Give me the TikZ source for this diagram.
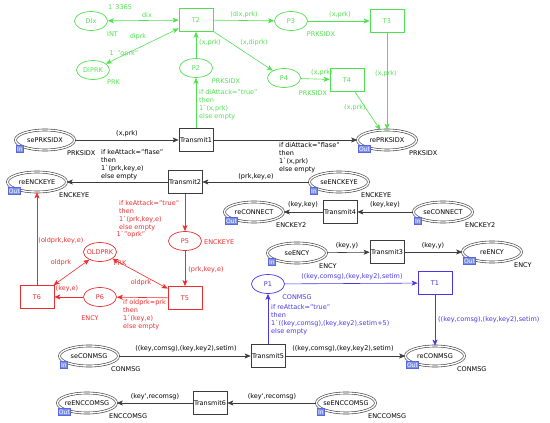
\documentclass[tikz,border=0pt]{standalone}
\usepackage{fontspec}
\setmainfont{DejaVu Sans}
\usetikzlibrary{shapes.geometric,arrows.meta}
\definecolor{cpngreen}{RGB}{80,225,80}
\definecolor{cpnred}{RGB}{235,45,45}
\definecolor{cpnblue}{RGB}{70,55,235}
\definecolor{cpngray}{RGB}{60,60,60}
\definecolor{tagblue}{RGB}{125,145,225}
\newcommand{\bt}{\textasciigrave}

\begin{document}
\begin{tikzpicture}[x=1pt,y=-1pt,
    every node/.style={font=\fontsize{6.5}{8}\selectfont},
    place/.style={ellipse,draw,line width=0.7pt,minimum width=33pt,minimum height=19pt,inner sep=-2pt},
    trans/.style={rectangle,draw,line width=0.7pt,minimum width=34pt,minimum height=23pt,inner sep=0pt},
    port/.style={ellipse,draw=cpngray,double,double distance=1.4pt,line width=0.6pt,minimum width=59pt,minimum height=20pt,inner sep=-2pt},
    tag/.style={fill=tagblue,draw=tagblue!70!blue,text=white,inner sep=0.8pt,minimum height=7pt,font=\fontsize{6}{6}\selectfont},
    lbl/.style={inner sep=0pt},
    cond/.style={inner sep=0pt,align=left,anchor=north west},
    arc/.style={line width=0.6pt,-{Stealth[length=6pt,width=5pt,inset=1.5pt]}},
    biarc/.style={line width=0.6pt,{Stealth[length=6pt,width=5pt,inset=1.5pt]}-{Stealth[length=6pt,width=5pt,inset=1.5pt]}}]
\useasboundingbox (0,0) rectangle (550,423);

% ports
\foreach \n/\x/\y/\io/\cs in {sePRKSIDX/45/140/In/PRKSIDX, rePRKSIDX/387/140/Out/PRKSIDX,
    reENCKEYE/37/182/Out/ENCKEYE, seENCKEYE/339/182/In/ENCKEYE,
    reCONNECT/254/212/Out/ENCKEY2, seCONNECT/443/212/In/ENCKEY2,
    seENCY/297/253/In/ENCY, reENCY/492/252/Out/ENCY,
    seCONMSG/89/356/In/CONMSG, reCONMSG/435/356/Out/CONMSG,
    reENCCOMSG/87/403/Out/ENCCOMSG, seENCCOMSG/346/403/In/ENCCOMSG}
{
    \node[port] (\n) at (\x,\y) {\n};
    \node[tag,anchor=west] (\n-io) at ([xshift=-29pt,yshift=-9pt]\n.center) {\io};
    \node[lbl,anchor=west] (\n-cs) at ([xshift=22pt,yshift=-13pt]\n.center) {\cs};
}

% transitions
\node[trans,draw=cpngray] (Transmit1) at (196,140) {Transmit1};
\node[trans,draw=cpngray] (Transmit2) at (185,182) {Transmit2};
\node[trans,draw=cpngray] (Transmit4) at (340,212) {Transmit4};
\node[trans,draw=cpngray] (Transmit3) at (387,252) {Transmit3};
\node[trans,draw=cpngray] (Transmit5) at (268,356) {Transmit5};
\node[trans,draw=cpngray] (Transmit6) at (210,403) {Transmit6};

% green part
\node[place,cpngreen] (DIx) at (91,21) {DIx};
\node[place,cpngreen] (DIPRK) at (93,70) {DIPRK};
\node[trans,cpngreen] (T2) at (196,20) {T2};
\node[place,cpngreen] (P3) at (291,21) {P3};
\node[trans,cpngreen] (T3) at (387,21) {T3};
\node[place,cpngreen] (P2) at (196,68) {P2};
\node[place,cpngreen] (P4) at (284,78) {P4};
\node[trans,cpngreen] (T4) at (347,80) {T4};

% red part
\node[place,cpnred] (P5) at (185,241) {P5};
\node[place,cpnred] (OLDPRK) at (100,252) {OLDPRK};
\node[place,cpnred] (P6) at (100,297) {P6};
\node[trans,cpnred] (T5) at (185,298) {T5};
\node[trans,cpnred] (T6) at (37,297) {T6};

% blue part
\node[place,cpnblue] (P1) at (268,284) {P1};
\node[trans,cpnblue] (T1) at (435,283) {T1};

\draw[biarc,cpngreen] (DIx) -- (T2);
\draw[biarc,cpngreen] (T2) -- (DIPRK);
\draw[arc,cpngreen] (T2) -- (P3);
\draw[arc,cpngreen] (P3) -- (T3);
\draw[arc,cpngreen] (P2) -- (T2);
\draw[arc,cpngreen] (T2) -- (P4);
\draw[arc,cpngreen] (P4) -- (T4);
\draw[arc,cpngreen] (T4) -- (rePRKSIDX);
\draw[arc,cpngreen] (T3) -- (rePRKSIDX);
\draw[arc,cpngreen] (Transmit1) -- (P2);

\draw[arc,cpngray] (sePRKSIDX) -- (Transmit1);
\draw[arc,cpngray] (Transmit1) -- (rePRKSIDX);
\draw[arc,cpngray] (seENCKEYE) -- (Transmit2);
\draw[arc,cpngray] (Transmit2) -- (reENCKEYE);
\draw[arc,cpngray] (seCONNECT) -- (Transmit4);
\draw[arc,cpngray] (Transmit4) -- (reCONNECT);
\draw[arc,cpngray] (seENCY) -- (Transmit3);
\draw[arc,cpngray] (Transmit3) -- (reENCY);
\draw[arc,cpngray] (seCONMSG) -- (Transmit5);
\draw[arc,cpngray] (Transmit5) -- (reCONMSG);
\draw[arc,cpngray] (seENCCOMSG) -- (Transmit6);
\draw[arc,cpngray] (Transmit6) -- (reENCCOMSG);

\draw[arc,cpnred] (Transmit2) -- (P5);
\draw[arc,cpnred] (P5) -- (T5);
\draw[biarc,cpnred] (OLDPRK) -- (T5);
\draw[biarc,cpnred] (T6) -- (OLDPRK);
\draw[arc,cpnred] (T5) -- (P6);
\draw[arc,cpnred] (P6) -- (T6);
\draw[arc,cpnred] (T6) -- (reENCKEYE);

\draw[arc,cpnblue] (P1) -- (T1);
\draw[arc,cpnblue] (T1) -- (reCONMSG);
\draw[arc,cpnblue] (Transmit5) -- (P1);

% green inscriptions
\node[lbl,cpngreen] (mDIx) at (120,7) {1\bt3365};
\node[lbl,cpngreen,anchor=west] (tDIx) at (107,34) {INT};
\node[lbl,cpngreen] (mDIPRK) at (124,54) {1\bt"oprk"};
\node[lbl,cpngreen,anchor=west] (tDIPRK) at (107,82) {PRK};
\node[lbl,cpngreen] (tP3) at (321,34) {PRKSIDX};
\node[lbl,cpngreen] (tP2) at (226,81) {PRKSIDX};
\node[lbl,cpngreen] (tP4) at (313,93) {PRKSIDX};
\node[lbl,cpngreen] (aDix) at (147,15) {dix};
\node[lbl,cpngreen] (aDiprk) at (138,37) {diprk};
\node[lbl,cpngreen] (aT2P3) at (244,15) {(dix,prk)};
\node[lbl,cpngreen] (aP3T3) at (340,15) {(x,prk)};
\node[lbl,cpngreen] (aP2T2) at (210,43) {(x,prk)};
\node[lbl,cpngreen] (aT2P4) at (254,43) {(x,diprk)};
\node[lbl,cpngreen] (aP4T4) at (322,73) {(x,prk)};
\node[lbl,cpngreen] (aT4re) at (355,108) {(x,prk)};
\node[lbl,cpngreen] (aT3re) at (386,74) {(x,prk)};
\node[cond,cpngreen] (aTr1P2) at (199,89) {if diAttack="true"\\then\\1\bt(x,prk)\\else empty};

% black inscriptions
\node[lbl] (aSeTr1) at (127,134) {(x,prk)};
\node[cond] (aSeTr2) at (101,149.5) {if keAttack="flase"\\then\\1\bt(prk,key,e)\\else empty};
\node[cond] (aTr1Re) at (279,142.5) {if diAttack="flase"\\then\\1\bt(x,prk)\\else empty};
\node[lbl] (aSeEK) at (256,177) {(prk,key,e)};
\node[lbl] (aTr4Re) at (303,205) {(key,key)};
\node[lbl] (aSeTr4) at (385,205) {(key,key)};
\node[lbl] (aSeTr3) at (347,246) {(key,y)};
\node[lbl] (aTr3Re) at (433,246) {(key,y)};
\node[lbl] (aSeTr5) at (186,349) {((key,comsg),(key,key2),setim)};
\node[lbl] (aTr5Re) at (343,349) {((key,comsg),(key,key2),setim)};
\node[lbl] (aTr6Re) at (155,397) {(key\textquotesingle,recomsg)};
\node[lbl] (aSeTr6) at (272,397) {(key\textquotesingle,recomsg)};

% red inscriptions
\node[cond,cpnred] (aTr2P5) at (119,200) {if keAttack="true"\\then\\1\bt(prk,key,e)\\else empty};
\node[lbl,cpnred] (mOLDPRK) at (131,235) {1\bt"oprk"};
\node[lbl,cpnred,anchor=west] (tP5) at (204,242) {ENCKEYE};
\node[lbl,cpnred] (tOLDPRK) at (120,263) {PRK};
\node[lbl,cpnred] (aT6Re) at (61,241) {(oldprk,key,e)};
\node[lbl,cpnred] (aT6Old) at (61,263) {oldprk};
\node[lbl,cpnred] (aOldT5) at (141,283) {oldprk};
\node[lbl,cpnred] (aP5T5) at (206,270) {(prk,key,e)};
\node[lbl,cpnred] (aP6T6) at (67,289) {(key,e)};
\node[lbl,cpnred] (tP6) at (90,318) {ENCY};
\node[cond,cpnred] (aT5P6) at (123,299) {if oldprk=prk\\then\\1\bt(key,e)\\else empty};

% blue inscriptions
\node[lbl,cpnblue] (aP1T1) at (352,277) {((key,comsg),(key,key2),setim)};
\node[lbl,cpnblue] (tP1) at (297,297) {CONMSG};
\node[cond,cpnblue] (aTr5P1) at (271,304) {if reAttack="true"\\then\\1\bt((key,comsg),(key,key2),setim+5)\\else empty};
\node[lbl,cpnblue,anchor=west] (aT1Re) at (438,320) {((key,comsg),(key,key2),setim)};
\end{tikzpicture}
\end{document}
